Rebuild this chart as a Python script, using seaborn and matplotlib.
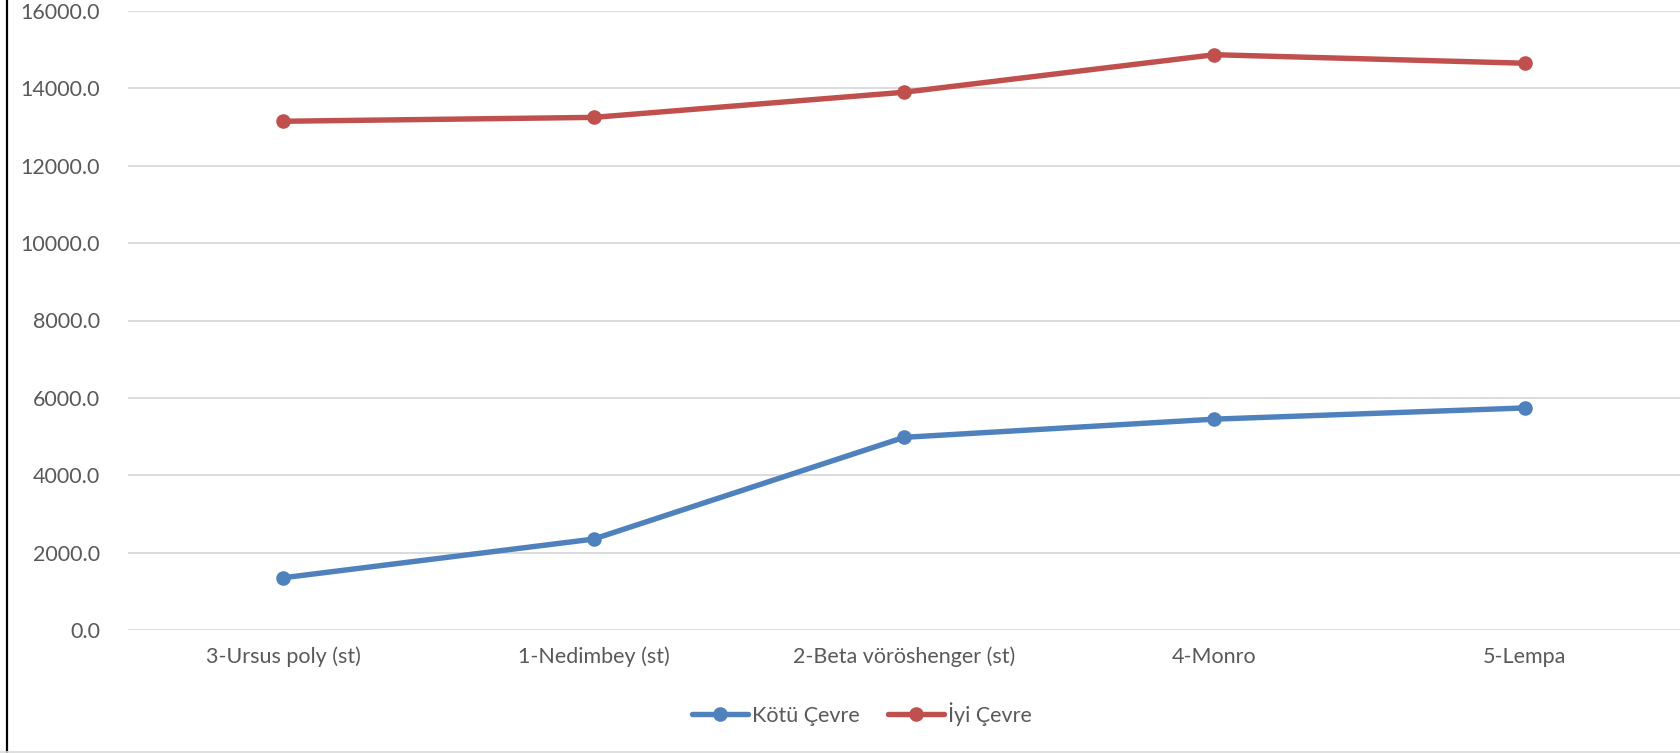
import pandas as pd
import matplotlib.pyplot as plt
import seaborn as sns
from matplotlib.lines import Line2D

categories = ['3-Ursus poly (st)', '1-Nedimbey (st)', '2-Beta vöröshenger (st)', '4-Monro', '5-Lempa']
kotu = [1350, 2350, 4980, 5450, 5740]
iyi = [13150, 13250, 13900, 14870, 14650]
series = ['Kötü Çevre', 'İyi Çevre']

df = pd.DataFrame({
    'Category': categories * 2,
    'Value': kotu + iyi,
    'Series': [series[0]] * len(categories) + [series[1]] * len(categories),
})

sns.set_style('white')
plt.rcParams['font.family'] = ['Lato', 'DejaVu Sans']
text_color = '#595959'

fig = plt.figure(figsize=(16.81, 7.53), dpi=100)
ax = fig.add_axes([128 / 1681, 123 / 753, 1552 / 1681, 619 / 753])

sns.lineplot(data=df, x='Category', y='Value', hue='Series', sort=False,
             palette=['#4F81BD', '#C0504D'], marker='o', markersize=10.5,
             markeredgewidth=0, linewidth=3.9, ax=ax)

ax.set_xlim(-0.5, len(categories) - 0.5)
ax.set_ylim(0, 16000)
ax.set_yticks(range(0, 16001, 2000))
ax.set_yticklabels([f'{v:.1f}' for v in range(0, 16001, 2000)])
ax.grid(True, axis='y', color='#D9D9D9', linewidth=1.3)
ax.set_axisbelow(True)
for s in ax.spines.values():
    s.set_visible(False)
ax.tick_params(axis='y', length=0, pad=20, labelsize=15.5, labelcolor=text_color)
ax.tick_params(axis='x', length=0, pad=12, labelsize=15.5, labelcolor=text_color)
ax.set_xlabel('')
ax.set_ylabel('')

handles, labels = ax.get_legend_handles_labels()
ax.get_legend().remove()
fig.legend(handles, labels, loc='center', bbox_to_anchor=(862 / 1681, 1 - 714 / 753),
           ncol=2, frameon=False, fontsize=15.5, labelcolor=text_color,
           handlelength=2.6, handletextpad=0.2, columnspacing=1.3)

# chart frame edges visible in the crop
fig.add_artist(Line2D([7.5 / 1681, 7.5 / 1681], [0, 1], color='black', linewidth=1.6))
fig.add_artist(Line2D([0, 1], [1 / 753, 1 / 753], color='#D9D9D9', linewidth=1.2))

fig.savefig('out.png', dpi=100, facecolor='white')
